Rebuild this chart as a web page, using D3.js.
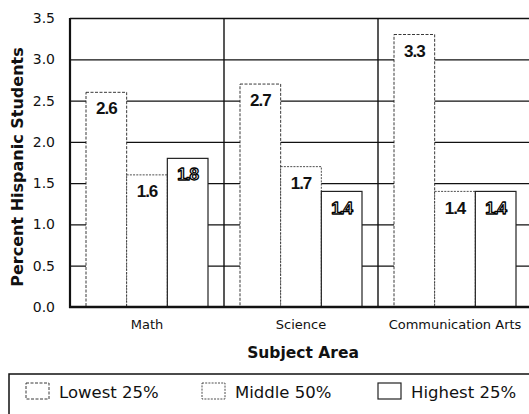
<!DOCTYPE html>
<html><head><meta charset="utf-8">
<script src="https://cdn.jsdelivr.net/npm/d3@7"></script>
<style>
body{margin:0;background:#fff;}
svg{display:block;}
text{font-family:"DejaVu Sans",sans-serif;fill:#111;}
</style></head>
<body>
<svg id="c" width="529" height="414"></svg>
<script>
const categories = ["Math", "Science", "Communication Arts"];
const seriesNames = ["Lowest 25%", "Middle 50%", "Highest 25%"];
const lowest  = [2.6, 2.7, 3.3];
const middle  = [1.6, 1.7, 1.4];
const highest = [1.8, 1.4, 1.4];
const yTicks  = [0, 0.5, 1.0, 1.5, 2.0, 2.5, 3.0, 3.5];

const seriesVals = [lowest, middle, highest];
const data = categories.map((c, i) => ({cat: c, vals: seriesNames.map((s, j) => ({s, j, v: seriesVals[j][i]}))}));

const svg = d3.select("#c");
const L = 70, R = 532, T = 18, B = 307;
const x0 = d3.scaleBand().domain(categories).range([L, R]).padding(0);
const x1 = d3.scaleBand().domain(seriesNames).range([16, 138]).padding(0);
const y = d3.scaleLinear().domain([0, 3.5]).range([B, T]);

const dash = ["3,1.5", "2,1.2", null];
const sw = [0.9, 0.8, 1.2];

// gridlines
const grid = svg.append("g").attr("transform", `translate(${L},0)`)
  .call(d3.axisLeft(y).tickValues(yTicks.slice(1)).tickSize(-(529 - L)).tickFormat(""));
grid.select(".domain").remove();
grid.selectAll("line").attr("stroke", "#111").attr("stroke-width", 1.3);

// group dividers
svg.append("g").selectAll("line").data(categories.slice(1)).join("line")
  .attr("x1", d => x0(d)).attr("x2", d => x0(d))
  .attr("y1", T).attr("y2", B)
  .attr("stroke", "#111").attr("stroke-width", 1.4);

// bars
const g = svg.append("g").selectAll("g").data(data).join("g")
  .attr("transform", d => `translate(${x0(d.cat)},0)`);
g.selectAll("rect").data(d => d.vals).join("rect")
  .attr("x", d => x1(d.s)).attr("width", x1.bandwidth())
  .attr("y", d => y(d.v)).attr("height", d => y(0) - y(d.v))
  .attr("fill", "#fff").attr("stroke", "#222")
  .attr("stroke-width", d => sw[d.j])
  .attr("stroke-dasharray", d => dash[d.j]);

// value labels
g.selectAll("text").data(d => d.vals).join("text")
  .attr("x", d => x1(d.s) + x1.bandwidth() / 2)
  .attr("y", d => y(d.v) + 16)
  .attr("dy", "0.36em")
  .attr("text-anchor", "middle")
  .style("font-family", "'Liberation Sans',sans-serif")
  .style("font-weight", "bold")
  .style("font-size", "17px")
  .style("letter-spacing", "-1px")
  .style("fill", d => d.j === 2 ? "#fff" : "#111")
  .style("stroke", d => d.j === 2 ? "#000" : "none")
  .style("stroke-width", d => d.j === 2 ? 1.3 : 0)
  .style("stroke-linejoin", "round")
  .text(d => d.v.toFixed(1));

// axes lines
svg.append("line").attr("x1", L).attr("x2", L).attr("y1", T).attr("y2", B + 1)
  .attr("stroke", "#111").attr("stroke-width", 2.2);
svg.append("line").attr("x1", L - 1).attr("x2", 529).attr("y1", B).attr("y2", B)
  .attr("stroke", "#111").attr("stroke-width", 2.4);

// y tick labels
const ya = svg.append("g").attr("transform", `translate(${L},0)`)
  .call(d3.axisLeft(y).tickValues(yTicks).tickSize(0).tickPadding(15).tickFormat(d3.format(".1f")));
ya.select(".domain").remove();
ya.selectAll("text").style("font-size", "14px").style("font-family", "'DejaVu Sans',sans-serif").style("fill", "#111");

// x category labels
const xa = svg.append("g").attr("transform", `translate(0,${B})`)
  .call(d3.axisBottom(x0).tickSize(0).tickPadding(13));
xa.select(".domain").remove();
xa.selectAll("text").style("font-size", "13px").style("font-family", "'DejaVu Sans',sans-serif").style("fill", "#111");

// axis titles
svg.append("text").attr("x", 303).attr("y", 358).attr("text-anchor", "middle")
  .style("font-size", "15.5px").style("font-weight", "bold").text("Subject Area");
svg.append("text").attr("transform", "translate(23,167) rotate(-90)").attr("text-anchor", "middle")
  .style("font-size", "16px").style("font-weight", "bold").text("Percent Hispanic Students");

// legend
svg.append("rect").attr("x", 9).attr("y", 374).attr("width", 540).attr("height", 60)
  .attr("fill", "none").attr("stroke", "#111").attr("stroke-width", 1.5);
const legX = [26, 202, 378];
const lg = svg.append("g").selectAll("g").data(seriesNames).join("g")
  .attr("transform", (d, i) => `translate(${legX[i]},383)`);
lg.append("rect").attr("width", 23).attr("height", 16).attr("fill", "#fff").attr("stroke", "#222")
  .attr("stroke-width", (d, i) => sw[i]).attr("stroke-dasharray", (d, i) => dash[i]);
lg.append("text").attr("x", 33).attr("y", 15).style("font-size", "16.5px").text(d => d);
</script>
</body></html>
